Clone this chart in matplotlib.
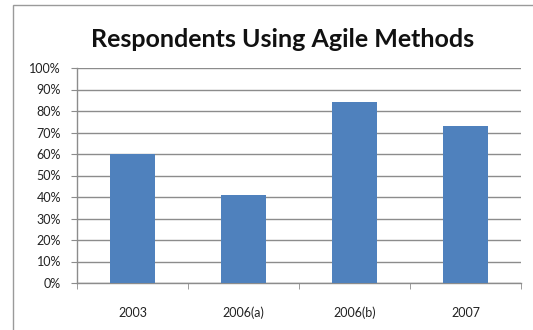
import matplotlib
matplotlib.use("Agg")
import matplotlib.pyplot as plt
from matplotlib.patches import Rectangle
from matplotlib.ticker import PercentFormatter

categories = ["2003", "2006(a)", "2006(b)", "2007"]
values = [60, 41, 84, 73]
y_ticks = list(range(0, 101, 10))

plt.rcParams["font.family"] = ["Lato", "DejaVu Sans"]

fig = plt.figure(figsize=(5.33, 3.30), dpi=100)
fig.patch.set_facecolor("white")

# chart frame (only left and top edges fall inside the image)
fig.patches.append(Rectangle((12.5 / 533, -0.1), 1.2, 0.1 + 325 / 330,
                             transform=fig.transFigure, fill=False,
                             edgecolor="#9a9a9a", linewidth=1.0))

ax = fig.add_axes([77 / 533, 47 / 330, 444 / 533, 215 / 330])
x = list(range(len(categories)))
ax.bar(x, values, width=0.41, color="#4F81BD", zorder=3)

ax.set_xlim(-0.5, len(categories) - 0.5)
ax.set_ylim(0, 100)
ax.set_yticks(y_ticks)
ax.yaxis.set_major_formatter(PercentFormatter(decimals=0))
ax.set_xticks(x)
ax.set_xticklabels(categories)
ax.set_xticks([i - 0.5 for i in range(len(categories) + 1)], minor=True)

ax.grid(axis="y", color="#8c8c8c", linewidth=1.0, zorder=0)
for side in ["top", "right"]:
    ax.spines[side].set_visible(False)
for side in ["left", "bottom"]:
    ax.spines[side].set_color("#8c8c8c")
    ax.spines[side].set_linewidth(1.0)

ax.tick_params(axis="x", which="major", length=0, pad=17, labelsize=9,
               labelcolor="#222222")
ax.tick_params(axis="x", which="minor", length=4, color="#8c8c8c", direction="out")
ax.tick_params(axis="y", length=4.5, color="#8c8c8c", pad=7, labelsize=9,
               labelcolor="#222222")

fig.text(0.530, 0.879, "Respondents Using Agile Methods", ha="center", va="center",
         fontsize=18, fontweight="bold", color="#111111")

fig.savefig("out.png", dpi=100, facecolor="white")
